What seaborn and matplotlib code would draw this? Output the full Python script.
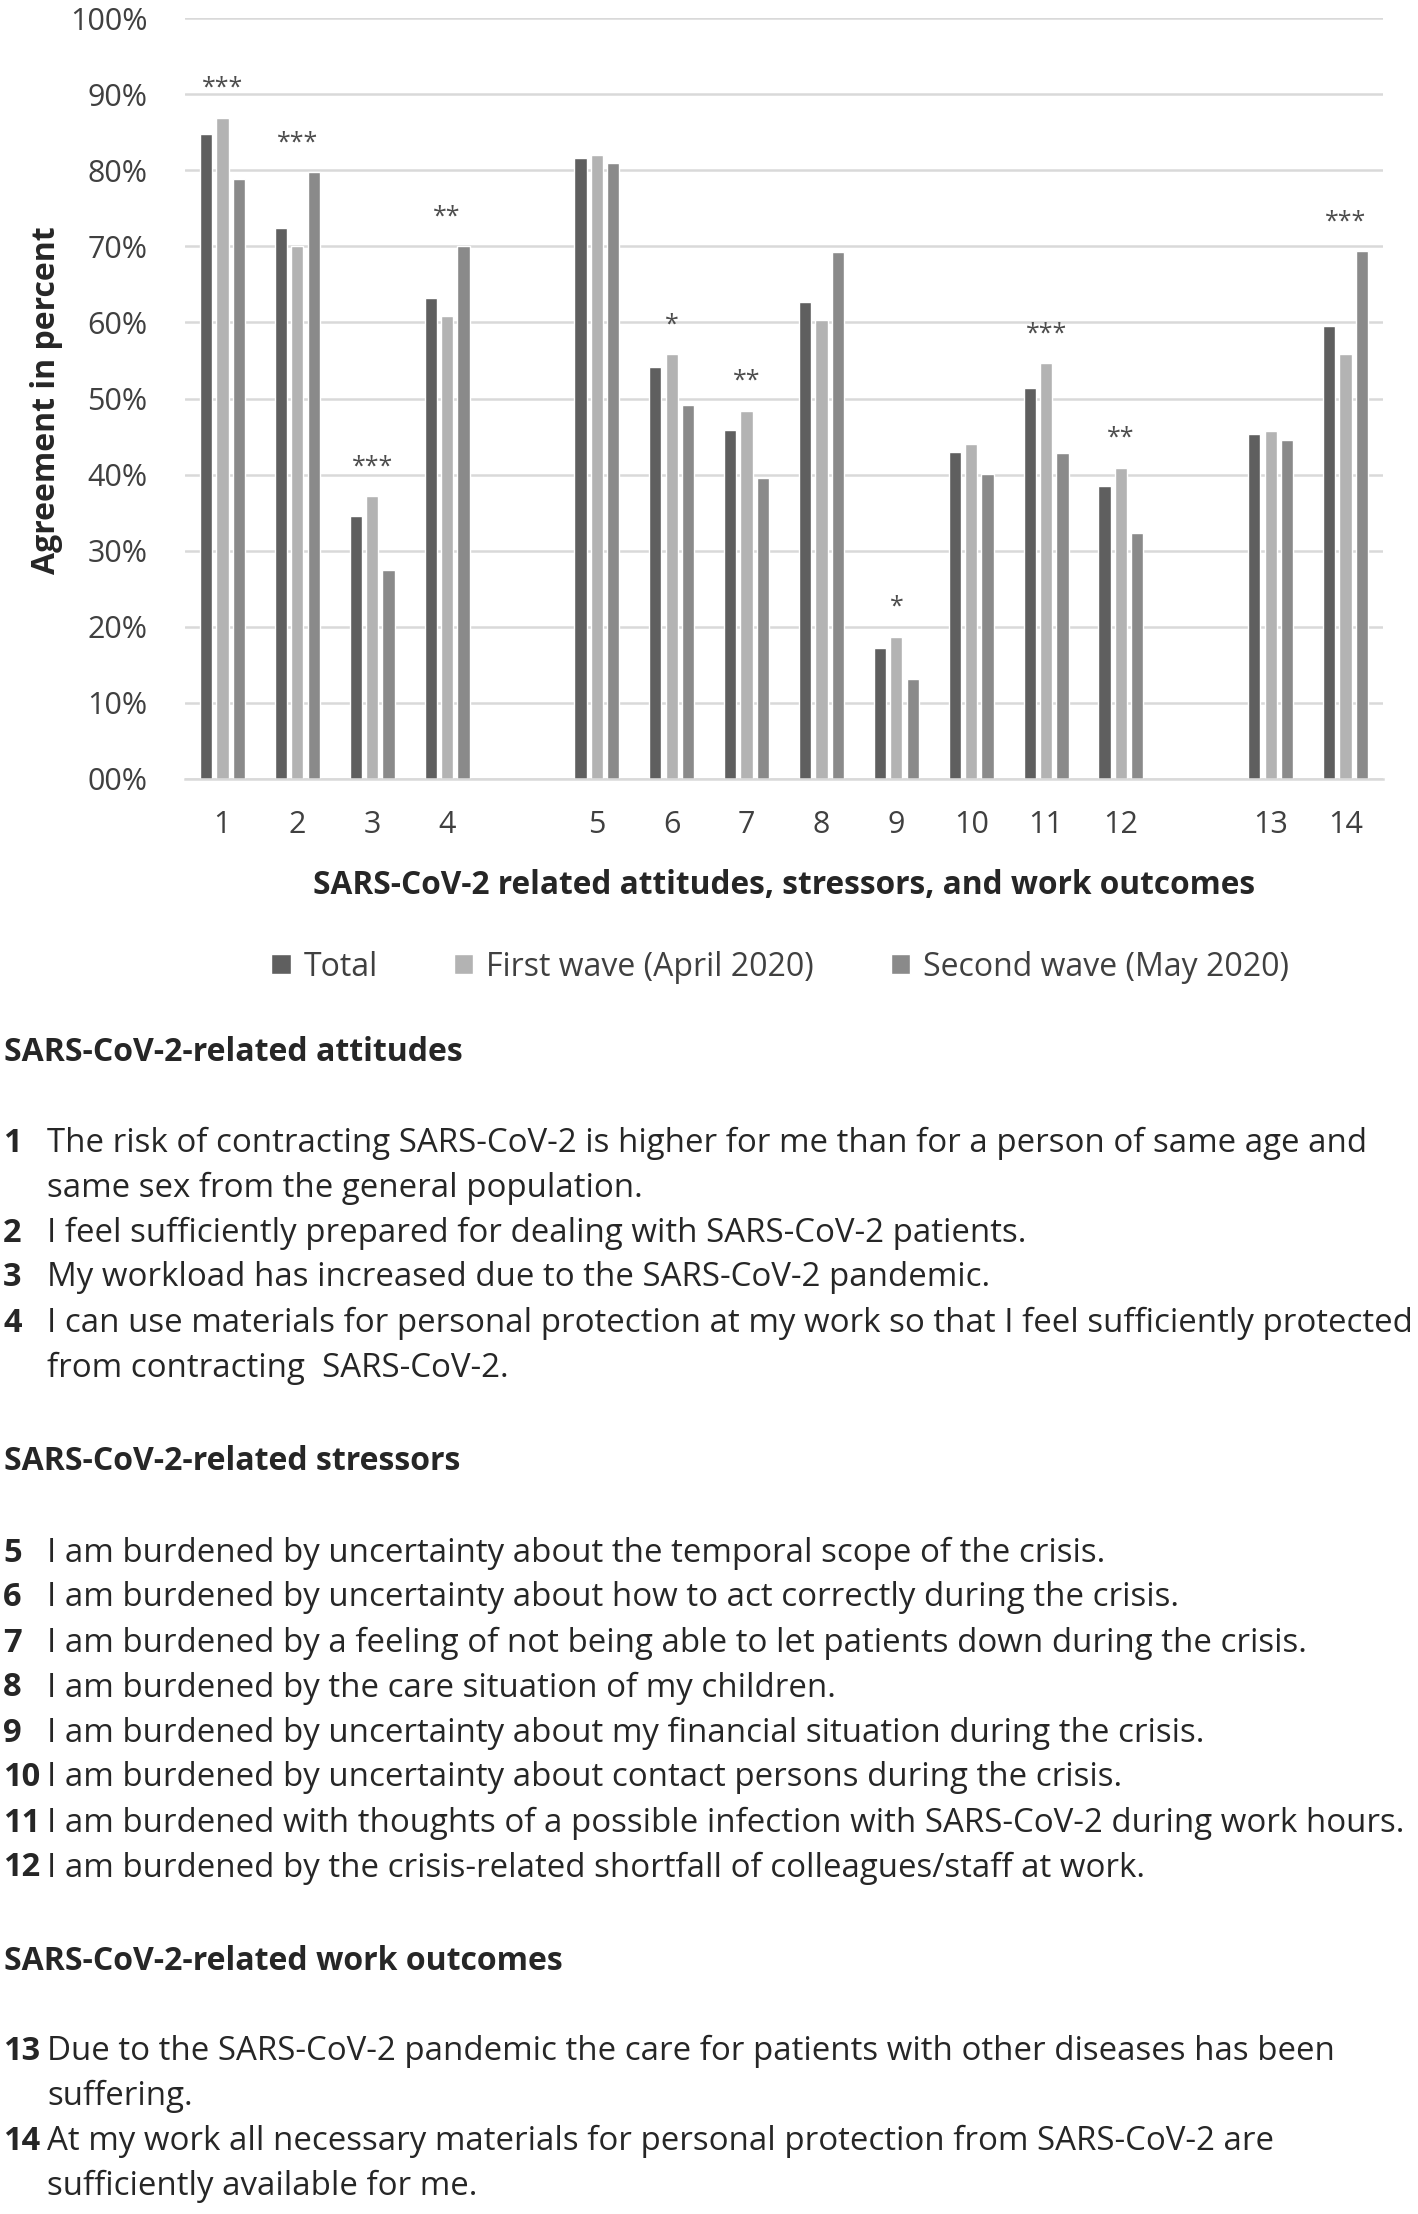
import matplotlib
matplotlib.use("Agg")
import matplotlib.pyplot as plt
import seaborn as sns
import pandas as pd

# Dados (percentual de concordância)
items = ["1", "2", "3", "4", "5", "6", "7", "8", "9", "10", "11", "12", "13", "14"]
total = [84.7, 72.4, 34.5, 63.2, 81.6, 54.2, 45.9, 62.7, 17.2, 43.0, 51.4, 38.5, 45.4, 59.5]
first_wave = [86.9, 70.0, 37.2, 60.8, 82.0, 55.8, 48.4, 60.3, 18.7, 44.0, 54.6, 40.9, 45.7, 55.8]
second_wave = [78.9, 79.7, 27.5, 70.0, 80.9, 49.1, 39.5, 69.3, 13.2, 40.1, 42.9, 32.3, 44.6, 69.4]
stars = ["***", "***", "***", "**", "", "*", "**", "", "*", "", "***", "**", "", "***"]
waves = ["Total", "First wave (April 2020)", "Second wave (May 2020)"]
colors = ["#5f5f5f", "#b3b3b3", "#8a8a8a"]

# ordem com posições vazias entre os grupos
slot_order = ["1", "2", "3", "4", " ", "5", "6", "7", "8", "9", "10", "11", "12", "  ", "13", "14"]

sections = [
    ("SARS-CoV-2-related attitudes", [
        ("1", ["The risk of contracting SARS-CoV-2 is higher for me than for a person of same age and",
               "same sex from the general population."]),
        ("2", ["I feel sufficiently prepared for dealing with SARS-CoV-2 patients."]),
        ("3", ["My workload has increased due to the SARS-CoV-2 pandemic."]),
        ("4", ["I can use materials for personal protection at my work so that I feel sufficiently protected",
               "from contracting  SARS-CoV-2."]),
    ]),
    ("SARS-CoV-2-related stressors", [
        ("5", ["I am burdened by uncertainty about the temporal scope of the crisis."]),
        ("6", ["I am burdened by uncertainty about how to act correctly during the crisis."]),
        ("7", ["I am burdened by a feeling of not being able to let patients down during the crisis."]),
        ("8", ["I am burdened by the care situation of my children."]),
        ("9", ["I am burdened by uncertainty about my financial situation during the crisis."]),
        ("10", ["I am burdened by uncertainty about contact persons during the crisis."]),
        ("11", ["I am burdened with thoughts of a possible infection with SARS-CoV-2 during work hours."]),
        ("12", ["I am burdened by the crisis-related shortfall of colleagues/staff at work."]),
    ]),
    ("SARS-CoV-2-related work outcomes", [
        ("13", ["Due to the SARS-CoV-2 pandemic the care for patients with other diseases has been",
                "suffering."]),
        ("14", ["At my work all necessary materials for personal protection from SARS-CoV-2 are",
                "sufficiently available for me."]),
    ]),
]

df = pd.DataFrame({
    "item": items * 3,
    "wave": [waves[0]] * 14 + [waves[1]] * 14 + [waves[2]] * 14,
    "value": total + first_wave + second_wave,
})

sns.set_style("white")
plt.rcParams["font.family"] = ["Open Sans", "DejaVu Sans"]
txt = "#262626"

W, H = 1418, 2214
fig = plt.figure(figsize=(W / 100, H / 100), dpi=100)
ax = fig.add_axes([185 / W, 1 - 779 / H, (1383 - 185) / W, (779 - 18) / H])

sns.barplot(data=df, x="item", y="value", hue="wave", order=slot_order, hue_order=waves,
            palette=colors, saturation=1, width=0.654, gap=0.25, ax=ax)

ax.set_ylim(0, 100)
ax.set_xlim(-0.5, len(slot_order) - 0.5)
ax.set_yticks(range(0, 101, 10))
ax.set_yticklabels([f"{v:02d}%" for v in range(0, 101, 10)])
ax.yaxis.grid(True, color="#d9d9d9", lw=1.8)
ax.set_axisbelow(True)
for s in ["top", "right", "left"]:
    ax.spines[s].set_visible(False)
ax.spines["bottom"].set_color("#d9d9d9")
ax.spines["bottom"].set_linewidth(1.8)
ax.tick_params(axis="both", length=0, labelsize=22, labelcolor="#404040")
ax.tick_params(axis="x", pad=22)
ax.tick_params(axis="y", pad=27)
ax.set_xlabel("")
ax.set_ylabel("")

# asteriscos de significância
for it, s, a, b, c in zip(items, stars, total, first_wave, second_wave):
    if s:
        ax.text(slot_order.index(it), max(a, b, c) + 2.2, s, ha="center", va="bottom",
                fontsize=18, color="#4d4d4d")

fig.text(47 / W, 1 - 400 / H, "Agreement in percent", rotation=90, ha="center", va="center",
         fontsize=23, fontweight="bold", color=txt)
fig.text(784 / W, 1 - 885 / H, "SARS-CoV-2 related attitudes, stressors, and work outcomes",
         ha="center", va="center", fontsize=22.8, fontweight="bold", color=txt)

handles, labels = ax.get_legend_handles_labels()
ax.get_legend().remove()
fig.legend(handles, labels, loc="center", bbox_to_anchor=(780 / W, 1 - 967 / H), ncol=3,
           frameon=False, fontsize=23, handlelength=0.6, handleheight=0.6,
           handletextpad=0.4, columnspacing=2.4, labelcolor="#404040")

# legenda textual dos itens
y_head = [1052, 1462, 1961]
y_first = [1143, 1553, 2051]
pitch = 45
for (head, rows), yh, yf in zip(sections, y_head, y_first):
    fig.text(4 / W, 1 - yh / H, head, ha="left", va="center", fontsize=23,
             fontweight="bold", color=txt)
    y = yf
    for num, lines in rows:
        fig.text(3 / W, 1 - y / H, num, ha="left", va="center", fontsize=23.5,
                 fontweight="bold", color=txt)
        for ln in lines:
            fig.text(47 / W, 1 - y / H, ln, ha="left", va="center", fontsize=23.8, color=txt)
            y += pitch

fig.savefig("out.png", dpi=100)
